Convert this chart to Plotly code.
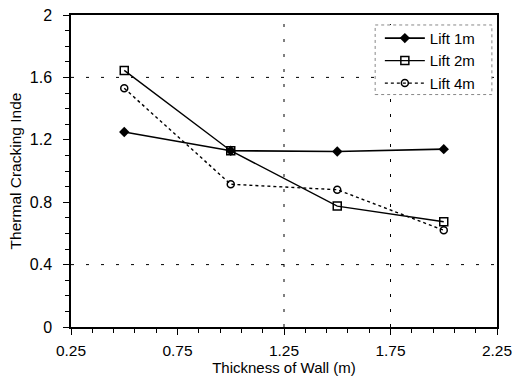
import plotly.graph_objects as go

thickness = [0.5, 1.0, 1.5, 2.0]
lift_1m = [1.25, 1.13, 1.125, 1.14]
lift_2m = [1.645, 1.13, 0.775, 0.675]
lift_4m = [1.53, 0.915, 0.88, 0.62]

x_grid = [1.25, 1.75]
y_grid = [0.4, 1.6]

fig = go.Figure()
fig.add_trace(go.Scatter(x=thickness, y=lift_1m, name="Lift 1m", mode="lines+markers",
                         line=dict(color="black", width=1.6),
                         marker=dict(symbol="diamond", size=8, color="black")))
fig.add_trace(go.Scatter(x=thickness, y=lift_2m, name="Lift 2m", mode="lines+markers",
                         line=dict(color="black", width=1.4),
                         marker=dict(symbol="square-open", size=8, color="black", line=dict(width=1.5))))
fig.add_trace(go.Scatter(x=thickness, y=lift_4m, name="Lift 4m", mode="lines+markers",
                         line=dict(color="black", width=1.4, dash="dot"),
                         marker=dict(symbol="circle-open", size=7, color="black", line=dict(width=1.5))))

shapes = []
for gx in x_grid:
    shapes.append(dict(type="line", xref="x", yref="paper", x0=gx, x1=gx, y0=0, y1=1,
                       line=dict(color="black", width=1, dash="3px,12px"), layer="below"))
for gy in y_grid:
    shapes.append(dict(type="line", xref="paper", yref="y", x0=0, x1=1, y0=gy, y1=gy,
                       line=dict(color="black", width=1, dash="3px,12px"), layer="below"))
# dotted legend frame
shapes.append(dict(type="rect", xref="paper", yref="paper", x0=0.714, x1=0.988, y0=0.745, y1=0.968,
                   line=dict(color="#888", width=1, dash="dot"), fillcolor="white", layer="below"))

font = "Liberation Sans, Arial, sans-serif"
fig.update_layout(
    width=516, height=376,
    margin=dict(l=71, r=19, t=15, b=49, autoexpand=False),
    paper_bgcolor="white", plot_bgcolor="white",
    font=dict(family=font, size=15, color="black"),
    shapes=shapes,
    showlegend=True,
    legend=dict(x=0.725, y=0.978, xanchor="left", yanchor="top",
                bgcolor="rgba(0,0,0,0)", borderwidth=0,
                font=dict(size=15, color="black"), tracegroupgap=0, itemwidth=40),
    xaxis=dict(range=[0.25, 2.25], tick0=0.25, dtick=0.5, showgrid=False, automargin=False,
               ticks="outside", ticklen=6, tickwidth=1.2, tickcolor="black",
               showline=True, linecolor="black", linewidth=1.5, mirror=True,
               zeroline=False, tickformat=".2f", ticklabelstandoff=3,
               tickfont=dict(size=15.5, color="black"),
               minor=dict(dtick=0.1, tick0=0.25, ticks="outside", ticklen=4, tickcolor="black", showgrid=False),
               title=dict(text="Thickness of Wall (m)", standoff=0, font=dict(size=15, color="black"))),
    yaxis=dict(range=[0, 2], tick0=0, dtick=0.4, showgrid=False, automargin=False,
               ticks="outside", ticklen=6, tickwidth=1.2, tickcolor="black",
               showline=True, linecolor="black", linewidth=1.5, mirror=True,
               zeroline=False, tickformat="~g", ticklabelstandoff=8,
               tickfont=dict(size=16, color="black"),
               minor=dict(dtick=0.1, ticks="outside", ticklen=4, tickcolor="black", showgrid=False),
               title=dict(text="Thermal Cracking Inde", standoff=4, font=dict(size=15.5, color="black"))),
)

fig.write_html("out.html")
